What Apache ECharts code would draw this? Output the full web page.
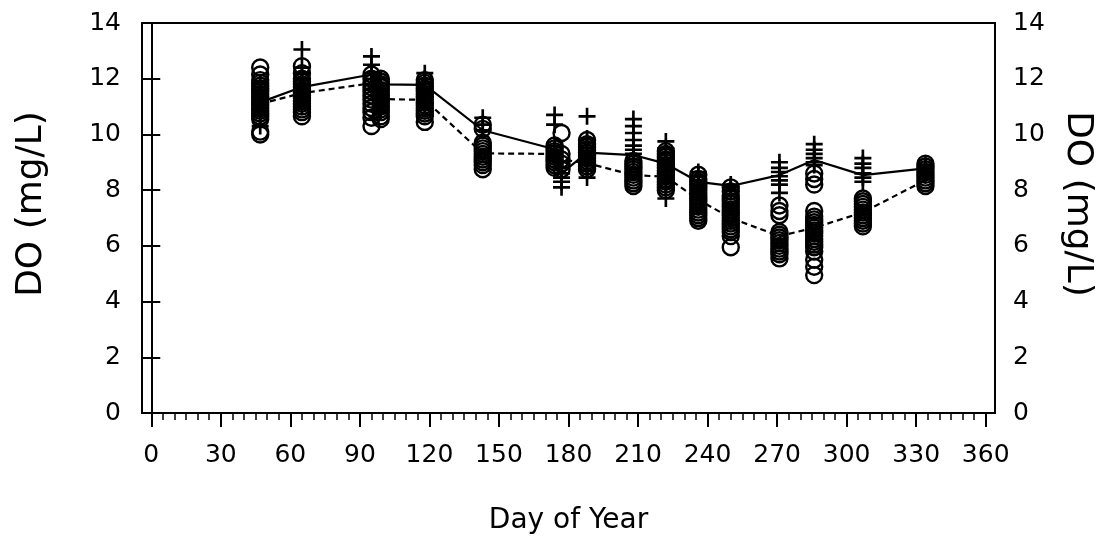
<!DOCTYPE html>
<html>
<head>
<meta charset="utf-8">
<title>DO (mg/L) vs Day of Year</title>
<script src="https://cdn.jsdelivr.net/npm/echarts@6/dist/echarts.min.js"></script>
<style>
  html, body { margin: 0; padding: 0; background: #fff; }
  #chart { width: 1107px; height: 548px; }
</style>
</head>
<body>
<div id="chart"></div>
<script>
// Sampling dates (day of year)
const sampleDays = [47, 65, 95, 99, 118, 143, 174, 177, 188, 208, 222, 236, 250, 271, 286, 307, 334];

// Individual DO readings (mg/L) plotted as "+" for each sampling date
const crossObs = [
  [11.8, 11.5, 11.3, 11.1, 10.9, 10.7, 10.3],
  [13.05, 12.4, 12.2, 12.0, 11.8, 11.6, 11.4, 11.2, 11.0],
  [12.8, 12.5, 12.2, 12.0, 11.8, 11.6],
  [12.0, 11.8, 11.6, 11.4, 11.2, 11.0, 10.8],
  [12.2, 12.0, 11.85, 11.7, 11.5, 11.3, 11.1, 10.9],
  [10.6, 10.35, 10.15],
  [10.7, 10.35, 9.6, 9.4, 9.2],
  [9.0, 8.8, 8.6, 8.45, 8.3, 8.1],
  [10.65, 9.85, 9.7, 9.5, 9.3, 9.1, 8.9, 8.7, 8.45],
  [10.55, 10.3, 10.05, 9.8, 9.6, 9.45, 9.3, 9.1],
  [9.75, 9.5, 9.3, 9.1, 8.9, 8.7, 8.5, 8.3, 8.1, 7.7],
  [8.65, 8.5, 8.35, 8.2, 8.05, 7.9],
  [8.2, 8.1, 8.0],
  [9.0, 8.8, 8.65, 8.5, 8.35, 8.2, 7.9],
  [9.65, 9.45, 9.3, 9.15, 9.0, 8.9],
  [9.15, 8.95, 8.8, 8.6, 8.45, 8.3],
  [8.9, 8.8, 8.7, 8.6]
];

// Individual DO readings (mg/L) plotted as open circles for each sampling date
const circleObs = [
  [12.4, 12.15, 11.95, 11.85, 11.75, 11.65, 11.55, 11.45, 11.35, 11.25, 11.15, 11.05, 10.95, 10.85, 10.75, 10.65, 10.55, 10.1, 10.0],
  [12.45, 12.2, 12.0, 11.9, 11.8, 11.7, 11.6, 11.5, 11.4, 11.3, 11.2, 11.1, 11.0, 10.9, 10.8, 10.65],
  [12.15, 12.0, 11.85, 11.7, 11.55, 11.4, 11.25, 11.1, 10.95, 10.8, 10.6, 10.3],
  [12.0, 11.9, 11.8, 11.7, 11.6, 11.5, 11.4, 11.3, 11.2, 11.1, 11.0, 10.9, 10.8, 10.65, 10.55],
  [11.95, 11.85, 11.75, 11.65, 11.55, 11.45, 11.35, 11.25, 11.15, 11.05, 10.95, 10.85, 10.75, 10.65, 10.45],
  [10.35, 10.2, 9.7, 9.6, 9.5, 9.4, 9.3, 9.2, 9.1, 9.0, 8.9, 8.75],
  [9.6, 9.5, 9.4, 9.3, 9.2, 9.1, 9.0, 8.9, 8.8],
  [10.05, 9.3, 9.1, 8.95, 8.75],
  [9.8, 9.65, 9.55, 9.45, 9.35, 9.25, 9.15, 9.05, 8.95, 8.85, 8.75],
  [9.05, 8.95, 8.85, 8.75, 8.65, 8.55, 8.45, 8.35, 8.25, 8.15],
  [9.4, 9.3, 9.2, 9.1, 9.0, 8.9, 8.8, 8.7, 8.6, 8.5, 8.4, 8.3, 8.2, 8.1, 8.0],
  [8.55, 8.4, 8.3, 8.2, 8.1, 8.0, 7.9, 7.8, 7.7, 7.6, 7.5, 7.4, 7.3, 7.2, 7.1, 7.0, 6.9],
  [8.1, 7.95, 7.8, 7.7, 7.6, 7.5, 7.4, 7.3, 7.2, 7.1, 7.0, 6.9, 6.8, 6.7, 6.6, 6.5, 6.35, 5.95],
  [7.45, 7.25, 7.1, 6.5, 6.4, 6.3, 6.2, 6.1, 6.0, 5.9, 5.8, 5.7, 5.55],
  [8.6, 8.4, 8.2, 7.25, 7.05, 6.95, 6.85, 6.75, 6.65, 6.55, 6.45, 6.35, 6.25, 6.15, 6.05, 5.95, 5.8, 5.5, 5.25, 4.95],
  [7.7, 7.6, 7.5, 7.4, 7.3, 7.2, 7.1, 7.0, 6.9, 6.8, 6.7],
  [8.95, 8.85, 8.75, 8.65, 8.55, 8.45, 8.35, 8.25, 8.15]
];

// Mean DO per date: solid line through the "+" readings, dashed line through the circles
const crossMeans  = [11.15, 11.7, 12.15, 11.8, 11.78, 10.15, 9.47, 8.6, 9.35, 9.26, 8.95, 8.3, 8.15, 8.54, 9.08, 8.54, 8.78];
const circleMeans = [11.1, 11.48, 11.84, 11.27, 11.24, 9.32, 9.3, 9.1, 8.97, 8.54, 8.48, 7.66, 7.0, 6.35, 6.65, 7.2, 8.36];

// Axis ticks
const dayTicks = [0, 30, 60, 90, 120, 150, 180, 210, 240, 270, 300, 330, 360];
const doTicks = [0, 2, 4, 6, 8, 10, 12, 14];

const minorDayTicks = [];
for (let d = 0; d <= 360; d += 5) if (d % 30 !== 0) minorDayTicks.push(d);

function pairs(days, values) {
  return days.map((d, i) => [d, values[i]]);
}
function flatten(days, groups) {
  const out = [];
  groups.forEach((g, i) => g.forEach(v => out.push([days[i], v])));
  return out;
}

const FONT = 'DejaVu Sans';
const INK = '#000';
// filled plus sign, bar thickness 2.5 of 16
const CROSS = 'path://M6.75 0h2.5v6.75h6.75v2.5h-6.75v6.75h-2.5v-6.75h-6.75v-2.5h6.75z';

const chart = echarts.init(document.getElementById('chart'), null, { renderer: 'canvas' });

const yAxisBase = {
  type: 'value',
  min: doTicks[0],
  max: doTicks[doTicks.length - 1],
  interval: 2,
  axisLine: { show: true, lineStyle: { color: INK, width: 2 } },
  axisTick: { show: true, length: 9, lineStyle: { color: INK, width: 2 } },
  splitLine: { show: false },
  nameLocation: 'middle',
  name: 'DO (mg/L)'
};

chart.setOption({
  animation: false,
  backgroundColor: '#fff',
  grid: {
    left: 142, right: 112, top: 23, bottom: 135,
    show: true, borderColor: INK, borderWidth: 2, backgroundColor: 'transparent'
  },
  xAxis: [
    {
      type: 'value', min: -4, max: 364, position: 'bottom',
      axisLine: { show: true, onZero: false, lineStyle: { color: INK, width: 2 } },
      axisTick: { show: true, customValues: dayTicks, length: 14, lineStyle: { color: INK, width: 2 } },
      axisLabel: { customValues: dayTicks, margin: 30, color: INK, fontFamily: FONT, fontSize: 25 },
      splitLine: { show: false },
      name: 'Day of Year', nameLocation: 'middle', nameGap: 94,
      nameTextStyle: { color: INK, fontFamily: FONT, fontSize: 28 }
    },
    {
      type: 'value', min: -4, max: 364, position: 'bottom',
      axisLine: { show: false },
      axisTick: { show: true, customValues: minorDayTicks, length: 7, lineStyle: { color: INK, width: 1.5 } },
      axisLabel: { show: false },
      splitLine: { show: false }
    }
  ],
  yAxis: [
    Object.assign({}, yAxisBase, {
      position: 'left',
      axisLabel: { margin: 21, color: INK, fontFamily: FONT, fontSize: 25 },
      nameGap: 92,
      nameTextStyle: { color: INK, fontFamily: FONT, fontSize: 36, padding: [0, 0, 0, 28] }
    }),
    Object.assign({}, yAxisBase, {
      position: 'right',
      axisLabel: { margin: 18, color: INK, fontFamily: FONT, fontSize: 25 },
      nameGap: 64, nameRotate: -90,
      nameTextStyle: { color: INK, fontFamily: FONT, fontSize: 36, padding: [0, 28, 0, 0] }
    })
  ],
  series: [
    {
      type: 'scatter', xAxisIndex: 0, yAxisIndex: 0, silent: true, z: 3,
      symbol: 'circle', symbolSize: 16,
      itemStyle: { color: 'rgba(0,0,0,0)', borderColor: INK, borderWidth: 2.4, opacity: 1 },
      data: flatten(sampleDays, circleObs)
    },
    {
      type: 'scatter', xAxisIndex: 0, yAxisIndex: 0, silent: true, z: 4,
      symbol: CROSS, symbolSize: 17,
      itemStyle: { color: INK, opacity: 1 },
      data: flatten(sampleDays, crossObs)
    },
    {
      type: 'line', xAxisIndex: 0, yAxisIndex: 0, silent: true, z: 5,
      symbol: 'none',
      lineStyle: { color: INK, width: 2.2 },
      data: pairs(sampleDays, crossMeans)
    },
    {
      type: 'line', xAxisIndex: 0, yAxisIndex: 0, silent: true, z: 5,
      symbol: 'none',
      lineStyle: { color: INK, width: 2.2, type: [6, 4] },
      data: pairs(sampleDays, circleMeans)
    }
  ]
});
</script>
</body>
</html>
